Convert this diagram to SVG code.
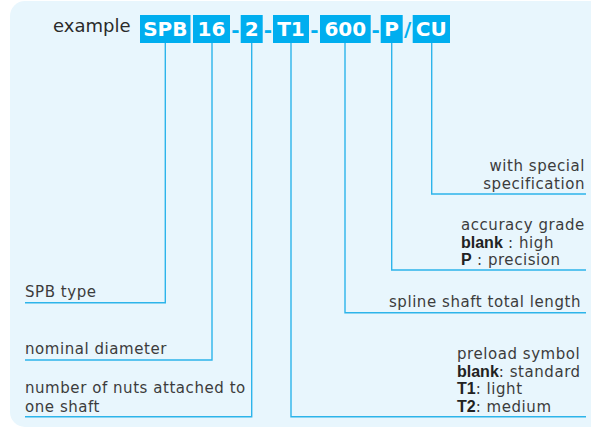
<svg xmlns="http://www.w3.org/2000/svg" width="591" height="429" viewBox="0 0 591 429">
<style>
.bg{fill:#e8f6fd}
.box{fill:#00aeef}
.bt{font-family:"DejaVu Sans",sans-serif;font-weight:bold;font-size:20px;fill:#fff;text-anchor:middle}
.sep{font-family:"DejaVu Sans",sans-serif;font-weight:bold;font-size:20px;fill:#00aeef;text-anchor:middle}
.t{font-family:"DejaVu Sans",sans-serif;font-size:15px;fill:#3c3c3c;letter-spacing:0.55px}
.b{font-family:"Liberation Sans",Arial,sans-serif;font-weight:bold;font-size:16px;letter-spacing:0;fill:#222}
.ex{font-family:"DejaVu Sans",sans-serif;font-size:18px;fill:#2a2a2a}
.ln{fill:none;stroke:#2db4ea;stroke-width:1.4}
</style>
<rect class="bg" x="10" y="1" width="600" height="426" rx="15" ry="15"/>
<g id="title"><text class="ex" x="53" y="32">example</text></g>
<g id="code-SPB"><rect class="box" x="140" y="15" width="50.5" height="28"/><text class="bt" x="165.3" y="36">SPB</text></g>
<g id="code-16"><rect class="box" x="193" y="15" width="37" height="28"/><text class="bt" x="211.5" y="36">16</text></g>
<g id="code-2"><rect class="box" x="240.7" y="15" width="22" height="28"/><text class="bt" x="251.7" y="36">2</text></g>
<g id="code-T1"><rect class="box" x="273" y="15" width="36" height="28"/><text class="bt" x="291" y="36">T1</text></g>
<g id="code-600"><rect class="box" x="320" y="15" width="50.7" height="28"/><text class="bt" x="345.3" y="36">600</text></g>
<g id="code-P"><rect class="box" x="380.7" y="15" width="22" height="28"/><text class="bt" x="391.7" y="36">P</text></g>
<g id="code-CU"><rect class="box" x="412.7" y="15" width="37.3" height="28"/><text class="bt" x="431.3" y="36">CU</text></g>
<g id="separators">
<text class="sep" x="235.5" y="37">-</text>
<text class="sep" x="268" y="37">-</text>
<text class="sep" x="314.5" y="37">-</text>
<text class="sep" x="375.7" y="37">-</text>
<text class="sep" x="407.7" y="36">/</text>
</g>
<g id="connectors">
<polyline class="ln" points="165.3,43 165.3,302.7 25,302.7"/>
<polyline class="ln" points="212,43 212,360 25,360"/>
<polyline class="ln" points="251.7,43 251.7,416.7 25,416.7"/>
<polyline class="ln" points="291,43 291,416.7 586,416.7"/>
<polyline class="ln" points="345,43 345,312.7 586,312.7"/>
<polyline class="ln" points="391.7,43 391.7,270 586,270"/>
<polyline class="ln" points="431.7,43 431.7,194 586,194"/>
</g>
<g id="label-type"><text class="t" x="25" y="297">SPB type</text></g>
<g id="label-diameter"><text class="t" x="25" y="354">nominal diameter</text></g>
<g id="label-nuts"><text class="t" x="25" y="393">number of nuts attached to</text><text class="t" x="25" y="411.5">one shaft</text></g>
<g id="label-special"><text class="t" x="585" y="170.7" text-anchor="end">with special</text><text class="t" x="585" y="189" text-anchor="end">specification</text></g>
<g id="label-accuracy"><text class="t" x="461" y="230">accuracy grade</text><text class="t" x="461" y="247.5"><tspan class="b">blank</tspan> : high</text><text class="t" x="461" y="264.5"><tspan class="b">P</tspan> : precision</text></g>
<g id="label-length"><text class="t" x="581" y="307" text-anchor="end">spline shaft total length</text></g>
<g id="label-preload"><text class="t" x="457" y="359.3">preload symbol</text><text class="t" x="457" y="376.8"><tspan class="b">blank</tspan>: standard</text><text class="t" x="457" y="394.3"><tspan class="b">T1</tspan>: light</text><text class="t" x="457" y="411.7"><tspan class="b">T2</tspan>: medium</text></g>
</svg>
